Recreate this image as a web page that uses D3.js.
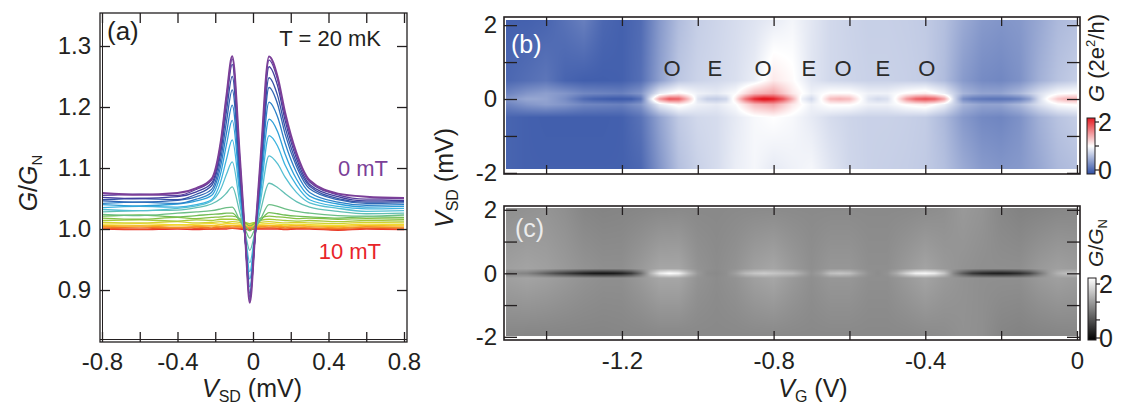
<!DOCTYPE html>
<html>
<head>
<meta charset="utf-8">
<script src="https://cdn.jsdelivr.net/npm/d3@7"></script>
<style>
  body { margin: 0; background: #fff; }
  svg text { font-family: "Liberation Sans", Arial, Helvetica, sans-serif; fill: #231f20; }
</style>
</head>
<body>
<svg id="fig" width="1125" height="407"></svg>
<script>
// ---------- panel (a): G/GN vs VSD for fields 0..10 mT ----------
var vsdKnots = [-0.8, -0.6, -0.4, -0.3, -0.22, -0.17, -0.14, -0.11, -0.07, -0.04, -0.017, 0.01, 0.04, 0.085, 0.13, 0.17, 0.23, 0.3, 0.45, 0.6, 0.8];
var fieldsMT = [0, 0.5, 1, 1.5, 2, 2.5, 3, 3.5, 4, 4.5, 5, 5.5, 6, 6.5, 7, 7.5, 8, 8.5, 9, 9.5, 10];
var g00 = [1.059, 1.056, 1.059, 1.067, 1.082, 1.145, 1.220, 1.283, 1.120, 0.979, 0.879, 0.986, 1.115, 1.283, 1.250, 1.191, 1.125, 1.080, 1.058, 1.053, 1.051];
var g05 = [1.055, 1.057, 1.055, 1.065, 1.080, 1.142, 1.217, 1.279, 1.115, 0.979, 0.881, 0.986, 1.110, 1.277, 1.245, 1.186, 1.122, 1.077, 1.056, 1.049, 1.050];
var g10 = [1.052, 1.050, 1.053, 1.061, 1.075, 1.136, 1.209, 1.270, 1.108, 0.979, 0.884, 0.985, 1.104, 1.266, 1.235, 1.178, 1.116, 1.073, 1.053, 1.046, 1.047];
var g15 = [1.048, 1.050, 1.048, 1.057, 1.071, 1.127, 1.194, 1.250, 1.098, 0.978, 0.889, 0.984, 1.094, 1.248, 1.219, 1.167, 1.109, 1.070, 1.050, 1.044, 1.045];
var g20 = [1.046, 1.044, 1.047, 1.053, 1.065, 1.116, 1.177, 1.228, 1.088, 0.977, 0.895, 0.984, 1.088, 1.232, 1.205, 1.156, 1.103, 1.066, 1.048, 1.042, 1.043];
var g25 = [1.042, 1.044, 1.042, 1.049, 1.060, 1.105, 1.158, 1.203, 1.078, 0.979, 0.905, 0.985, 1.078, 1.208, 1.184, 1.141, 1.093, 1.060, 1.044, 1.039, 1.040];
var g30 = [1.040, 1.038, 1.041, 1.046, 1.055, 1.093, 1.139, 1.178, 1.068, 0.982, 0.918, 0.987, 1.068, 1.180, 1.160, 1.123, 1.082, 1.054, 1.041, 1.036, 1.037];
var g35 = [1.035, 1.037, 1.036, 1.040, 1.048, 1.079, 1.115, 1.146, 1.056, 0.983, 0.930, 0.989, 1.058, 1.153, 1.136, 1.105, 1.072, 1.048, 1.037, 1.033, 1.034];
var g40 = [1.032, 1.030, 1.034, 1.038, 1.046, 1.066, 1.090, 1.110, 1.042, 0.986, 0.945, 0.991, 1.046, 1.120, 1.107, 1.085, 1.060, 1.043, 1.034, 1.029, 1.030];
var g45 = [1.028, 1.030, 1.031, 1.035, 1.041, 1.050, 1.059, 1.069, 1.027, 0.991, 0.965, 0.994, 1.030, 1.075, 1.068, 1.058, 1.045, 1.036, 1.029, 1.025, 1.026];
var g50 = [1.024, 1.022, 1.026, 1.028, 1.030, 1.033, 1.035, 1.036, 1.014, 0.998, 0.985, 1.000, 1.016, 1.040, 1.037, 1.033, 1.029, 1.026, 1.022, 1.021, 1.023];
var g55 = [1.021, 1.023, 1.020, 1.022, 1.024, 1.025, 1.026, 1.026, 1.014, 1.004, 0.997, 1.005, 1.014, 1.027, 1.025, 1.023, 1.021, 1.020, 1.018, 1.020, 1.019];
var g60 = [1.018, 1.016, 1.019, 1.017, 1.019, 1.020, 1.021, 1.021, 1.017, 1.010, 1.005, 1.010, 1.018, 1.021, 1.020, 1.019, 1.017, 1.018, 1.016, 1.017, 1.016];
var g65 = [1.014, 1.015, 1.013, 1.015, 1.014, 1.016, 1.016, 1.016, 1.014, 1.011, 1.009, 1.011, 1.014, 1.016, 1.015, 1.014, 1.013, 1.014, 1.012, 1.014, 1.013];
var g70 = [1.011, 1.010, 1.012, 1.010, 1.011, 1.012, 1.011, 1.012, 1.011, 1.009, 1.008, 1.009, 1.011, 1.012, 1.011, 1.010, 1.011, 1.010, 1.009, 1.011, 1.010];
var g75 = [1.008, 1.009, 1.007, 1.008, 1.009, 1.008, 1.009, 1.009, 1.008, 1.007, 1.006, 1.007, 1.008, 1.009, 1.008, 1.007, 1.008, 1.007, 1.006, 1.008, 1.007];
var g80 = [1.006, 1.005, 1.007, 1.006, 1.005, 1.007, 1.006, 1.006, 1.006, 1.005, 1.005, 1.005, 1.006, 1.006, 1.006, 1.005, 1.006, 1.005, 1.004, 1.006, 1.005];
var g85 = [1.004, 1.005, 1.003, 1.004, 1.005, 1.004, 1.004, 1.005, 1.004, 1.004, 1.003, 1.004, 1.004, 1.005, 1.004, 1.004, 1.003, 1.004, 1.002, 1.004, 1.003];
var g90 = [1.002, 1.003, 1.002, 1.003, 1.002, 1.003, 1.003, 1.003, 1.003, 1.002, 1.002, 1.002, 1.003, 1.003, 1.003, 1.002, 1.003, 1.002, 1.001, 1.003, 1.002];
var g95 = [1.001, 1.000, 1.002, 1.001, 1.000, 1.001, 1.002, 1.001, 1.001, 1.001, 1.000, 1.001, 1.001, 1.002, 1.001, 1.000, 1.001, 1.001, 0.999, 1.001, 1.000];
var g100 = [1.000, 0.999, 1.000, 0.999, 1.000, 1.000, 1.000, 1.001, 1.000, 0.999, 0.999, 1.000, 1.000, 1.000, 1.000, 0.999, 1.000, 1.000, 0.998, 1.000, 0.999];
var traces = [g00, g05, g10, g15, g20, g25, g30, g35, g40, g45, g50, g55, g60, g65, g70, g75, g80, g85, g90, g95, g100];
var traceColors = ["#7b3f98", "#5b3f9e", "#413f9e", "#3652a6", "#3166b4", "#2b80c8", "#2f9fd8", "#3db3df", "#55bfd2", "#62bfb4", "#6cbe85", "#72bd55", "#86c143", "#a8c93a", "#cfd231", "#f1d92b", "#f6bb26", "#f49a24", "#f07a24", "#ec5526", "#e8322a"];

// ---------- panels (b), (c): maps over VG and VSD ----------
var vgBg = [-1.5, -1.45, -1.4, -1.35, -1.3, -1.25, -1.2, -1.15, -1.1, -1.05, -1.0, -0.95, -0.9, -0.85, -0.8, -0.75, -0.7, -0.65, -0.6, -0.55, -0.5, -0.45, -0.4, -0.35, -0.3, -0.25, -0.2, -0.15, -0.1, -0.05, 0];
// G (2e^2/h) at VSD = 2.2, 0.5, +-0.15, -0.5, -1.9
var gTop    = [0.10, 0.10, 0.12, 0.20, 0.28, 0.14, 0.10, 0.16, 0.42, 0.62, 0.72, 0.76, 0.80, 0.84, 0.88, 0.94, 0.86, 0.78, 0.75, 0.73, 0.73, 0.72, 0.70, 0.64, 0.52, 0.43, 0.40, 0.42, 0.50, 0.60, 0.64];
var gUpper  = [0.14, 0.18, 0.22, 0.12, 0.09, 0.09, 0.10, 0.18, 0.46, 0.68, 0.75, 0.78, 0.82, 0.90, 1.10, 1.02, 0.85, 0.78, 0.76, 0.74, 0.74, 0.73, 0.71, 0.62, 0.43, 0.34, 0.32, 0.38, 0.55, 0.66, 0.72];
var gEdge   = [0.30, 0.40, 0.45, 0.40, 0.32, 0.30, 0.28, 0.40, 0.90, 1.05, 0.92, 0.88, 0.98, 1.30, 1.40, 1.10, 0.92, 1.02, 1.02, 0.92, 0.92, 1.02, 1.08, 0.92, 0.58, 0.48, 0.48, 0.60, 0.82, 0.98, 1.02];
var gLower  = [0.12, 0.10, 0.09, 0.09, 0.09, 0.09, 0.10, 0.20, 0.48, 0.70, 0.78, 0.80, 0.88, 0.96, 1.00, 0.96, 0.88, 0.80, 0.76, 0.74, 0.74, 0.73, 0.71, 0.60, 0.42, 0.33, 0.31, 0.38, 0.55, 0.66, 0.72];
var gBottom = [0.12, 0.10, 0.10, 0.10, 0.10, 0.10, 0.10, 0.14, 0.40, 0.64, 0.74, 0.80, 0.90, 0.95, 0.88, 0.92, 0.95, 0.85, 0.77, 0.74, 0.73, 0.72, 0.70, 0.64, 0.52, 0.43, 0.40, 0.42, 0.50, 0.60, 0.64];
var vgZero = [-1.5, -1.475, -1.45, -1.425, -1.4, -1.375, -1.35, -1.325, -1.3, -1.275,
  -1.25, -1.225, -1.2, -1.175, -1.15, -1.125, -1.1, -1.075, -1.05, -1.025,
  -1.0, -0.975, -0.95, -0.925, -0.9, -0.875, -0.85, -0.825, -0.8, -0.775,
  -0.75, -0.725, -0.7, -0.675, -0.65, -0.625, -0.6, -0.575, -0.55, -0.525,
  -0.5, -0.475, -0.45, -0.425, -0.4, -0.375, -0.35, -0.325, -0.3, -0.275,
  -0.25, -0.225, -0.2, -0.175, -0.15, -0.125, -0.1, -0.075, -0.05, -0.025, 0];
var gZero = [0.40, 0.45, 0.50, 0.50, 0.48, 0.42, 0.35, 0.25, 0.15, 0.10,
  0.08, 0.06, 0.06, 0.08, 0.20, 0.85, 1.45, 1.75, 1.70, 1.30,
  0.85, 0.72, 0.70, 0.76, 1.10, 1.60, 1.95, 2.10, 2.00, 1.75,
  1.35, 0.92, 0.78, 1.00, 1.30, 1.35, 1.30, 1.05, 0.85, 0.78,
  0.82, 1.05, 1.45, 1.70, 1.78, 1.70, 1.40, 0.80, 0.35, 0.25,
  0.22, 0.20, 0.20, 0.22, 0.28, 0.45, 0.80, 1.05, 1.25, 1.35, 1.35];
// G/GN at VSD = 2.1, +-0.15, 0, -2.0
var cTop    = [1.12, 1.14, 1.16, 1.12, 1.05, 1.03, 1.04, 1.05, 1.06, 1.07, 1.07, 1.07, 1.08, 1.08, 1.08, 1.08, 1.08, 1.08, 1.08, 1.08, 1.08, 1.08, 1.09, 1.12, 1.20, 1.16, 1.06, 1.02, 1.03, 1.05, 1.06];
var cEdge   = [1.25, 1.28, 1.25, 1.20, 1.15, 1.12, 1.12, 1.20, 1.30, 1.30, 1.15, 1.10, 1.15, 1.25, 1.30, 1.20, 1.12, 1.18, 1.18, 1.12, 1.12, 1.20, 1.28, 1.20, 1.15, 1.12, 1.12, 1.12, 1.20, 1.25, 1.22];
var cBottom = [1.05, 1.04, 1.04, 1.04, 1.04, 1.04, 1.05, 1.05, 1.06, 1.06, 1.07, 1.07, 1.07, 1.07, 1.07, 1.07, 1.07, 1.07, 1.07, 1.07, 1.07, 1.07, 1.08, 1.10, 1.14, 1.12, 1.04, 1.02, 1.03, 1.04, 1.05];
var cZero = [1.00, 1.05, 1.02, 0.90, 0.75, 0.60, 0.48, 0.36, 0.25, 0.18,
  0.16, 0.18, 0.25, 0.45, 0.85, 1.40, 1.85, 2.00, 1.90, 1.50,
  1.20, 1.10, 1.08, 1.12, 1.25, 1.45, 1.55, 1.60, 1.55, 1.50,
  1.45, 1.30, 1.15, 1.25, 1.50, 1.55, 1.50, 1.30, 1.15, 1.10,
  1.15, 1.35, 1.65, 1.90, 1.95, 1.85, 1.55, 1.05, 0.70, 0.42,
  0.30, 0.24, 0.22, 0.26, 0.35, 0.55, 0.90, 1.20, 1.40, 1.50, 1.50];

var parityVG = [-1.068, -0.955, -0.828, -0.707, -0.617, -0.512, -0.396];
var parityLbl = ["O", "E", "O", "E", "O", "E", "O"];

var ink = "#231f20";
var svg = d3.select("#fig");

function styleAxis(g, size) {
  g.select(".domain").remove();
  g.selectAll("line").attr("stroke", ink).attr("stroke-width", 1.3);
  g.selectAll("text").attr("font-size", size).attr("fill", ink)
    .attr("font-family", "Liberation Sans, Arial, sans-serif");
}
function fmt1(d) { return d === 0 ? "0" : d.toFixed(1); }

// ===== panel (a) =====
var xa = d3.scaleLinear().domain([-0.8106, 0.8159]).range([100, 407]);
var ya = d3.scaleLinear().domain([0.8148, 1.3541]).range([342, 13]);
var ga = svg.append("g");
ga.append("clipPath").attr("id", "clipA").append("rect")
  .attr("x", 100).attr("y", 13).attr("width", 307).attr("height", 329);

var line = d3.line()
  .x(function(d, i) { return xa(vsdKnots[i]); })
  .y(function(d) { return ya(d); })
  .curve(d3.curveMonotoneX);

var curveG = ga.append("g").attr("clip-path", "url(#clipA)");
for (var t = traces.length - 1; t >= 0; t--) {
  curveG.append("path").attr("d", line(traces[t]))
    .attr("fill", "none").attr("stroke", traceColors[t])
    .attr("stroke-width", t === 0 ? 2 : 1.3).attr("stroke-linejoin", "round");
}

var xaTicks = [-0.8, -0.6, -0.4, -0.2, 0, 0.2, 0.4, 0.6, 0.8];
var yaTicks = [0.9, 1.0, 1.1, 1.2, 1.3];
styleAxis(ga.append("g").attr("transform", "translate(0,342)")
  .call(d3.axisBottom(xa).tickValues(xaTicks).tickSize(-10).tickPadding(11)
    .tickFormat(function(d) { return (Math.round(d * 10) % 4 === 0) ? fmt1(d) : ""; })), 24);
styleAxis(ga.append("g").attr("transform", "translate(0,13)")
  .call(d3.axisTop(xa).tickValues(xaTicks).tickSize(-10).tickFormat("")), 24);
styleAxis(ga.append("g").attr("transform", "translate(100,0)")
  .call(d3.axisLeft(ya).tickValues(yaTicks).tickSize(-10).tickPadding(9)
    .tickFormat(function(d) { return d.toFixed(1); })), 24);
styleAxis(ga.append("g").attr("transform", "translate(407,0)")
  .call(d3.axisRight(ya).tickValues(yaTicks).tickSize(-10).tickFormat("")), 24);

ga.append("rect").attr("x", 100).attr("y", 13).attr("width", 307).attr("height", 329)
  .attr("fill", "none").attr("stroke", ink).attr("stroke-width", 1.3);
ga.append("line").attr("x1", 102.5).attr("x2", 102.5).attr("y1", 13).attr("y2", 342).attr("stroke", ink).attr("stroke-width", 1);
ga.append("line").attr("x1", 100).attr("x2", 407).attr("y1", 339.5).attr("y2", 339.5).attr("stroke", ink).attr("stroke-width", 1);

ga.append("text").attr("x", 107).attr("y", 40).attr("font-size", 26).text("(a)");
ga.append("text").attr("x", 381).attr("y", 46).attr("text-anchor", "end").attr("font-size", 22).text("T = 20 mK");
ga.append("text").attr("x", 388).attr("y", 176).attr("text-anchor", "end").attr("font-size", 22)
  .style("fill", traceColors[0]).text("0 mT");
ga.append("text").attr("x", 381).attr("y", 259).attr("text-anchor", "end").attr("font-size", 22)
  .style("fill", "#e8242a").text("10 mT");

var xtA = ga.append("text").attr("x", 252).attr("y", 397).attr("text-anchor", "middle").attr("font-size", 25);
xtA.append("tspan").attr("font-style", "italic").text("V");
xtA.append("tspan").attr("font-size", 16).attr("dy", 5).text("SD");
xtA.append("tspan").attr("dy", -5).text(" (mV)");

var ytA = ga.append("text").attr("transform", "translate(37,183) rotate(-90)")
  .attr("text-anchor", "middle").attr("font-size", 25);
ytA.append("tspan").attr("font-style", "italic").text("G");
ytA.append("tspan").text("/");
ytA.append("tspan").attr("font-style", "italic").text("G");
ytA.append("tspan").attr("font-size", 15).attr("dy", 5).text("N");

// ===== panels (b) and (c) =====
var xb = d3.scaleLinear().domain([-1.511, 0.008]).range([504, 1080]);
var yb = d3.scaleLinear().domain([-2.03, 2.22]).range([174, 17]);
var yc = d3.scaleLinear().domain([-2.1, 2.12]).range([340, 206]);

var colorB = d3.scaleLinear().domain([0, 1, 2]).range(["#2f4fa5", "#ffffff", "#e41a22"]).clamp(true);
var colorC = d3.scaleLinear().domain([0, 2]).range(["#000000", "#ffffff"]).clamp(true);

function colScale(dom, vals) { return d3.scaleLinear().domain(dom).range(vals).clamp(true); }

function drawMap(g, ys, rowVsd, rows, colorOf, vsdLo, vsdHi) {
  var px0 = Math.round(xb(-1.505)), px1 = Math.round(xb(0));
  var py0 = Math.round(ys(vsdHi)), py1 = Math.round(ys(vsdLo));
  var w = px1 - px0, h = py1 - py0;
  var canvas = document.createElement("canvas");
  canvas.width = w; canvas.height = h;
  var ctx = canvas.getContext("2d");
  var img = ctx.createImageData(w, h);
  for (var i = 0; i < w; i++) {
    var vg = xb.invert(px0 + i + 0.5);
    var vals = rows.map(function(s) { return s(vg); });
    var vcol = d3.scaleLinear().domain(rowVsd).range(vals).clamp(true);
    for (var j = 0; j < h; j++) {
      var c = d3.rgb(colorOf(vcol(ys.invert(py0 + j + 0.5))));
      var k = (j * w + i) * 4;
      img.data[k] = c.r; img.data[k + 1] = c.g; img.data[k + 2] = c.b; img.data[k + 3] = 255;
    }
  }
  ctx.putImageData(img, 0, 0);
  g.append("image").attr("x", px0).attr("y", py0).attr("width", w).attr("height", h)
    .attr("preserveAspectRatio", "none").attr("href", canvas.toDataURL());
}

var xbTicks = [-1.4, -1.2, -1.0, -0.8, -0.6, -0.4, -0.2, 0];
var ybTicks = [-2, -1, 0, 1, 2];

function mapAxes(g, ys, top, bottom, labelsX) {
  styleAxis(g.append("g").attr("transform", "translate(0," + bottom + ")")
    .call(d3.axisBottom(xb).tickValues(xbTicks).tickSize(-9).tickPadding(12)
      .tickFormat(function(d) { return labelsX && Math.round(d * 10) % 4 === 0 ? fmt1(d) : ""; })), 24);
  styleAxis(g.append("g").attr("transform", "translate(0," + top + ")")
    .call(d3.axisTop(xb).tickValues(xbTicks).tickSize(-9).tickFormat("")), 24);
  styleAxis(g.append("g").attr("transform", "translate(504,0)")
    .call(d3.axisLeft(ys).tickValues(ybTicks).tickSize(-13).tickPadding(7)
      .tickFormat(function(d) { return d % 2 === 0 ? String(d) : ""; })), 24);
  styleAxis(g.append("g").attr("transform", "translate(1080,0)")
    .call(d3.axisRight(ys).tickValues(ybTicks).tickSize(-13).tickFormat("")), 24);
  g.append("rect").attr("x", 504).attr("y", top).attr("width", 576).attr("height", bottom - top)
    .attr("fill", "none").attr("stroke", ink).attr("stroke-width", 1.6);
}

// (b)
var gb = svg.append("g");
drawMap(gb, yb, [-1.9, -0.5, -0.15, 0, 0.15, 0.5, 2.2],
  [colScale(vgBg, gBottom), colScale(vgBg, gLower), colScale(vgBg, gEdge), colScale(vgZero, gZero),
   colScale(vgBg, gEdge), colScale(vgBg, gUpper), colScale(vgBg, gTop)],
  colorB, -1.9, 2.13);
mapAxes(gb, yb, 17, 174, false);
gb.append("text").attr("x", 511).attr("y", 53).attr("font-size", 25).style("fill", "#ffffff").text("(b)");
gb.selectAll(".par").data(parityVG).enter().append("text")
  .attr("x", function(d) { return xb(d); }).attr("y", 76)
  .attr("text-anchor", "middle").attr("font-size", 22).style("fill", "#2b2b2b")
  .text(function(d, i) { return parityLbl[i]; });

// (c)
var gc = svg.append("g");
drawMap(gc, yc, [-2.0, -0.15, 0, 0.15, 2.1],
  [colScale(vgBg, cBottom), colScale(vgBg, cEdge), colScale(vgZero, cZero), colScale(vgBg, cEdge), colScale(vgBg, cTop)],
  colorC, -1.98, 2.05);
mapAxes(gc, yc, 206, 340, true);
gc.append("text").attr("x", 515).attr("y", 237).attr("font-size", 25).style("fill", "#ececec").text("(c)");

// colour bars
var defs = svg.append("defs");
function gradient(id, scale) {
  var gr = defs.append("linearGradient").attr("id", id)
    .attr("x1", 0).attr("y1", 1).attr("x2", 0).attr("y2", 0);
  [0, 0.25, 0.5, 0.75, 1, 1.25, 1.5, 1.75, 2].forEach(function(v) {
    gr.append("stop").attr("offset", v / 2).attr("stop-color", scale(v));
  });
}
gradient("gradB", colorB);
gradient("gradC", colorC);

var cbB = d3.scaleLinear().domain([0, 2]).range([170, 122]);
var cbC = d3.scaleLinear().domain([0, 2]).range([338, 284]);
function colorBar(scale, grad, x, y0, y1, ticks) {
  var g = svg.append("g");
  g.append("rect").attr("x", x).attr("y", y0).attr("width", 8).attr("height", y1 - y0)
    .attr("fill", "url(#" + grad + ")").attr("stroke", ink).attr("stroke-width", 1);
  g.selectAll("line").data(ticks).enter().append("line")
    .attr("x1", x + 8).attr("x2", x + 12)
    .attr("y1", function(d) { return scale(d); }).attr("y2", function(d) { return scale(d); })
    .attr("stroke", ink).attr("stroke-width", 1.2);
  g.selectAll("text").data([0, 2]).enter().append("text")
    .attr("x", x + 11).attr("y", function(d) { return scale(d) + 9; })
    .attr("font-size", 25).text(function(d) { return d; });
}
colorBar(cbB, "gradB", 1087, 118, 174, [0, 1, 2]);
colorBar(cbC, "gradC", 1088, 278, 340, [0, 0.67, 1.33, 2]);

var lblB = svg.append("text").attr("transform", "translate(1104,58) rotate(-90)")
  .attr("text-anchor", "middle").attr("font-size", 22);
lblB.append("tspan").attr("font-style", "italic").text("G");
lblB.append("tspan").text(" (2e");
lblB.append("tspan").attr("font-size", 13).attr("dy", -9).text("2");
lblB.append("tspan").attr("dy", 9).text("/h)");

var lblC = svg.append("text").attr("transform", "translate(1103,243) rotate(-90)")
  .attr("text-anchor", "middle").attr("font-size", 21);
lblC.append("tspan").attr("font-style", "italic").text("G");
lblC.append("tspan").text("/");
lblC.append("tspan").attr("font-style", "italic").text("G");
lblC.append("tspan").attr("font-size", 13).attr("dy", 4).text("N");

var xtB = svg.append("text").attr("x", 813).attr("y", 397).attr("text-anchor", "middle").attr("font-size", 25);
xtB.append("tspan").attr("font-style", "italic").text("V");
xtB.append("tspan").attr("font-size", 16).attr("dy", 5).text("G");
xtB.append("tspan").attr("dy", -5).text(" (V)");

var ytB = svg.append("text").attr("transform", "translate(453,178) rotate(-90)")
  .attr("text-anchor", "middle").attr("font-size", 25);
ytB.append("tspan").attr("font-style", "italic").text("V");
ytB.append("tspan").attr("font-size", 16).attr("dy", 5).text("SD");
ytB.append("tspan").attr("dy", -5).text(" (mV)");
</script>
</body>
</html>
